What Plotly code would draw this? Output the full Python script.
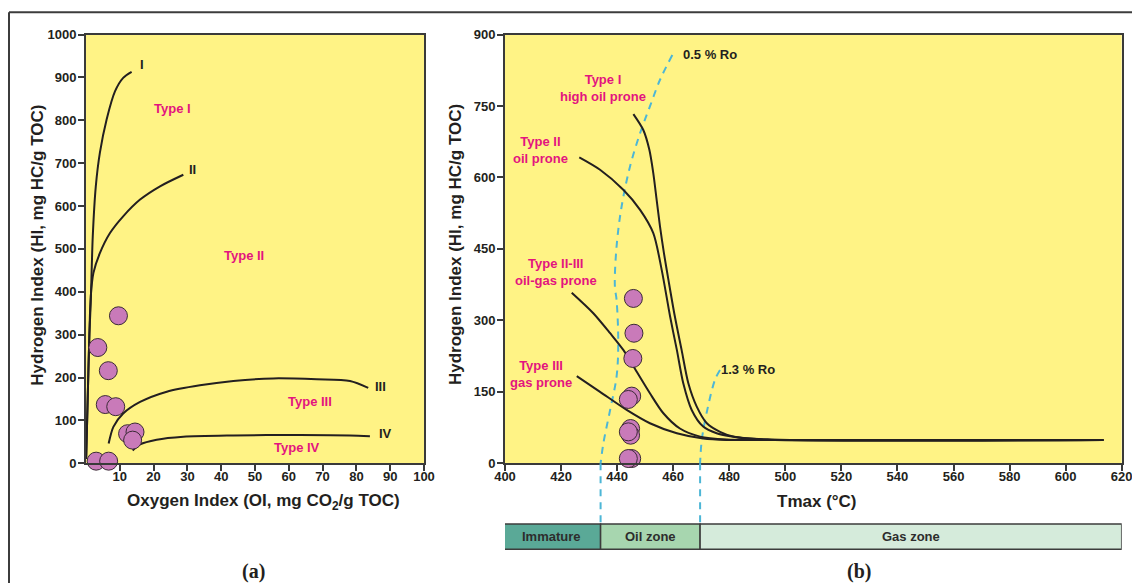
import plotly.graph_objects as go

W, H = 1132, 583

# ---------------- Panel (a): HI vs OI ----------------
oi_ticks = [10, 20, 30, 40, 50, 60, 70, 80, 90, 100]
hi_ticks_a = [0, 100, 200, 300, 400, 500, 600, 700, 800, 900, 1000]

curve_I_oi = [0.05, 0.5, 1.0, 1.4, 2.0, 2.9, 4.1, 6.1, 8.6, 11.0, 13.5]
curve_I_hi = [10, 150, 300, 374, 529, 646, 724, 802, 868, 899, 913]
curve_II_oi = [0.05, 0.5, 1.0, 1.4, 2.2, 4.1, 7.1, 11.0, 16.0, 21.9, 28.8]
curve_II_hi = [10, 150, 300, 389, 444, 490, 537, 576, 615, 646, 673]
curve_III_oi = [6.7, 8.1, 11.0, 16.0, 23.9, 33.7, 43.6, 55.4, 68.3, 78.1, 83.5]
curve_III_hi = [46, 85, 116, 143, 167, 182, 192, 198, 196, 192, 176]
curve_IV_oi = [13.8, 16.0, 20.9, 28.8, 43.6, 63.3, 78.1, 84.0]
curve_IV_hi = [30, 44, 55, 62, 65, 66, 65, 63]

samples_oi = [9.6, 3.5, 6.6, 5.7, 8.8, 12.3, 14.5, 13.8, 3.0, 6.7]
samples_hi_a = [344, 270, 216, 137, 132, 69, 73, 54, 5, 5]

curve_labels_a = ["I", "II", "III", "IV"]
curve_label_oi = [16.7, 31.4, 87.0, 88.7]
curve_label_hi = [929, 685, 180, 69]

type_labels_a = ["Type I", "Type II", "Type III", "Type IV"]
type_label_oi = [25.5, 46.7, 66.3, 62.3]
type_label_hi = [827, 484, 144, 36]

# ---------------- Panel (b): HI vs Tmax ----------------
tmax_ticks = [400, 420, 440, 460, 480, 500, 520, 540, 560, 580, 600, 620]
hi_ticks_b = [0, 150, 300, 450, 600, 750, 900]

typeI_T = [445.8, 449.3, 451.5, 452.9, 454.1, 455.3, 456.7, 458.3, 460.6, 463.0, 465.4, 468.4, 472.0, 476.7, 482.0, 495.0, 613.5]
typeI_HI = [733, 700, 658, 609, 553, 497, 441, 385, 308, 238, 168, 119, 84, 66, 55, 50, 49]
typeII_T = [426.5, 433.9, 442.2, 448.2, 452.9, 455.9, 458.9, 461.3, 463.6, 466.6, 470.7, 475.5, 480.3, 492.0, 613.5]
typeII_HI = [642, 616, 574, 532, 483, 406, 308, 238, 168, 112, 77, 63, 57, 50, 49]
typeIIIII_T = [423.8, 431.5, 437.5, 442.2, 447.0, 451.7, 456.5, 462.4, 469.6, 479.1, 490.0, 613.5]
typeIIIII_HI = [358, 315, 273, 238, 192, 147, 105, 73, 56, 50, 49, 49]
typeIII_T = [425.6, 433.9, 443.4, 451.7, 461.3, 470.7, 479.1, 490.0, 613.5]
typeIII_HI = [183, 150, 112, 84, 63, 52, 49, 49, 49]

ro05_T = [459.7, 455.3, 451.7, 448.2, 444.6, 441.6, 439.8, 439.2, 439.8, 440.4, 439.8, 437.5, 435.1, 434.1]
ro05_HI = [857, 805, 749, 693, 623, 539, 455, 371, 343, 252, 182, 112, 42, 0]
ro13_T = [476.7, 474.9, 471.9, 470.2, 469.6]
ro13_HI = [196, 175, 105, 49, 0]

samples_T = [445.8, 446.0, 445.6, 445.2, 444.0, 444.8, 444.8, 444.0, 445.2, 444.0]
samples_hi_b = [346, 273, 220, 141, 134, 73, 59, 66, 10, 10]

type_labels_b = ["Type I<br>high oil prone", "Type II<br>oil prone",
                 "Type II-III<br>oil-gas prone", "Type III<br>gas prone"]
type_label_T = [435.1, 412.7, 418.1, 412.8]
type_label_hi_b = [787, 658, 401, 187]

ro_labels = ["0.5 % Ro", "1.3 % Ro"]
ro_label_T = [462.7, 476.5]
ro_label_hi = [857, 196]

zone_names = ["Immature", "Oil zone", "Gas zone"]
zone_start = [399.0, 434.1, 469.6]
zone_end = [434.1, 469.6, 620.0]
zone_colors = ["#5aa997", "#a7d6af", "#d5ebdb"]

# ---------------- styling ----------------
INK = "#231f20"
PINK = "#e3147f"
YELLOW = "#fff385"
MARKER = "#c97ab9"
DASH = "#4db6d6"
SANS = "Liberation Sans, Arial, sans-serif"

def px_x(p):
    return p / W

def px_y(p):
    return 1 - p / H

fig = go.Figure()

line_style = dict(color=INK, width=2, shape="spline", smoothing=0.8)
for xs, ys in [(curve_I_oi, curve_I_hi), (curve_II_oi, curve_II_hi),
               (curve_III_oi, curve_III_hi), (curve_IV_oi, curve_IV_hi)]:
    fig.add_trace(go.Scatter(x=xs, y=ys, mode="lines", line=line_style,
                             xaxis="x", yaxis="y", showlegend=False, hoverinfo="skip"))

fig.add_trace(go.Scatter(x=samples_oi, y=samples_hi_a, mode="markers",
                         marker=dict(size=18, color=MARKER, line=dict(color="#3b2a36", width=1)),
                         cliponaxis=False, xaxis="x", yaxis="y", showlegend=False))

# panel b
for xs, ys in [(ro05_T, ro05_HI), (ro13_T, ro13_HI)]:
    fig.add_trace(go.Scatter(x=xs, y=ys, mode="lines",
                             line=dict(color=DASH, width=2, dash="7px,6px", shape="spline"),
                             xaxis="x2", yaxis="y2", showlegend=False, hoverinfo="skip"))
for xs, ys in [(typeI_T, typeI_HI), (typeII_T, typeII_HI),
               (typeIIIII_T, typeIIIII_HI), (typeIII_T, typeIII_HI)]:
    fig.add_trace(go.Scatter(x=xs, y=ys, mode="lines", line=line_style,
                             xaxis="x2", yaxis="y2", showlegend=False, hoverinfo="skip"))

fig.add_trace(go.Scatter(x=samples_T, y=samples_hi_b, mode="markers",
                         marker=dict(size=18, color=MARKER, line=dict(color="#3b2a36", width=1)),
                         cliponaxis=False, xaxis="x2", yaxis="y2", showlegend=False))

annotations = []
for t, x, y in zip(curve_labels_a, curve_label_oi, curve_label_hi):
    annotations.append(dict(x=x, y=y, xref="x", yref="y", text=t, showarrow=False,
                            font=dict(family=SANS, size=13, color=INK, weight="bold")))
for t, x, y in zip(type_labels_a, type_label_oi, type_label_hi):
    annotations.append(dict(x=x, y=y, xref="x", yref="y", text=t, showarrow=False,
                            font=dict(family=SANS, size=13, color=PINK, weight="bold")))
for t, x, y in zip(type_labels_b, type_label_T, type_label_hi_b):
    annotations.append(dict(x=x, y=y, xref="x2", yref="y2", text=t, showarrow=False,
                            font=dict(family=SANS, size=13, color=PINK, weight="bold")))
for t, x, y in zip(ro_labels, ro_label_T, ro_label_hi):
    annotations.append(dict(x=x, y=y, xref="x2", yref="y2", text=t, showarrow=False,
                            xanchor="left",
                            font=dict(family=SANS, size=13, color=INK, weight="bold")))

bar_top, bar_bot = px_y(524), px_y(549.3)
ax_bot = px_y(463.3)
shapes = []
for name, s, e, c in zip(zone_names, zone_start, zone_end, zone_colors):
    shapes.append(dict(type="rect", xref="x2", yref="paper", x0=s, x1=e, y0=bar_bot, y1=bar_top,
                       fillcolor=c, line=dict(color="#3c3c3c", width=1.5), layer="above"))
    annotations.append(dict(x=(s + e) / 2, y=(bar_top + bar_bot) / 2, xref="x2", yref="paper",
                            xanchor="center", yanchor="middle",
                            text=name, showarrow=False,
                            font=dict(family=SANS, size=13, color="#2d2d2d", weight="bold")))
for xv in [ro05_T[-1], ro13_T[-1]]:
    shapes.append(dict(type="line", xref="x2", yref="paper", x0=xv, x1=xv, y0=ax_bot, y1=bar_top,
                       line=dict(color=DASH, width=2, dash="7px,6px"), layer="above"))

# outer frame
shapes.append(dict(type="line", xref="paper", yref="paper", x0=px_x(9), x1=1, y0=px_y(12.3), y1=px_y(12.3),
                   line=dict(color="#3c3c3c", width=2)))
shapes.append(dict(type="line", xref="paper", yref="paper", x0=px_x(9), x1=px_x(9), y0=px_y(12.3), y1=0,
                   line=dict(color="#3c3c3c", width=2)))

# axis titles and panel labels
title_font = dict(family=SANS, size=17, color=INK, weight="bold")
serif_font = dict(family="Liberation Serif, Times New Roman, serif", size=20, color=INK, weight="bold")
paper_labels = [
    ("Hydrogen Index (HI, mg HC/g TOC)", 36.7, 245, -90, title_font),
    ("Hydrogen Index (HI, mg HC/g TOC)", 455, 245, -90, title_font),
    ("Oxygen Index (OI, mg CO<sub>2</sub>/g TOC)", 263, 501.7, 0, title_font),
    ("Tmax (°C)", 817, 501.7, 0, title_font),
    ("(a)", 253.3, 571.7, 0, serif_font),
    ("(b)", 859.3, 571.7, 0, serif_font),
]
for t, x, y, ang, f in paper_labels:
    annotations.append(dict(x=px_x(x), y=px_y(y), xref="paper", yref="paper", text=t,
                            textangle=ang, xanchor="center", yanchor="middle",
                            showarrow=False, font=f))

tickfont = dict(family=SANS, size=13, color=INK, weight="bold")
axis_common = dict(showgrid=False, zeroline=False, showline=True, mirror=True, linecolor="#3a3a3a",
                   linewidth=2, ticks="outside", ticklen=6, tickwidth=1.5, tickcolor="#3a3a3a",
                   tickfont=tickfont, fixedrange=True, automargin=False, ticklabeloverflow="allow")

y_dom = [px_y(463.3), px_y(34.5)]
fig.update_layout(
    template="none",
    width=W, height=H, autosize=False,
    margin=dict(l=0, r=0, t=0, b=0, pad=0),
    paper_bgcolor="white", plot_bgcolor=YELLOW,
    xaxis=dict(domain=[px_x(86), px_x(424)], range=[0, 100], tickvals=oi_ticks, anchor="y",
               ticklabelstandoff=-6, **axis_common),
    yaxis=dict(domain=y_dom, range=[0, 1000], tickvals=hi_ticks_a, anchor="x",
               ticklabelstandoff=-1, **axis_common),
    xaxis2=dict(domain=[px_x(505), px_x(1121.7)], range=[400, 620], tickvals=tmax_ticks, anchor="y2",
                ticklabelstandoff=-6, **axis_common),
    yaxis2=dict(domain=y_dom, range=[0, 900], tickvals=hi_ticks_b, anchor="x2",
                ticklabelstandoff=-1, **axis_common),
    annotations=annotations,
    shapes=shapes,
    showlegend=False,
)

fig.write_html("out.html", config={"displayModeBar": False},
               post_script="document.body.style.margin='0px';")
